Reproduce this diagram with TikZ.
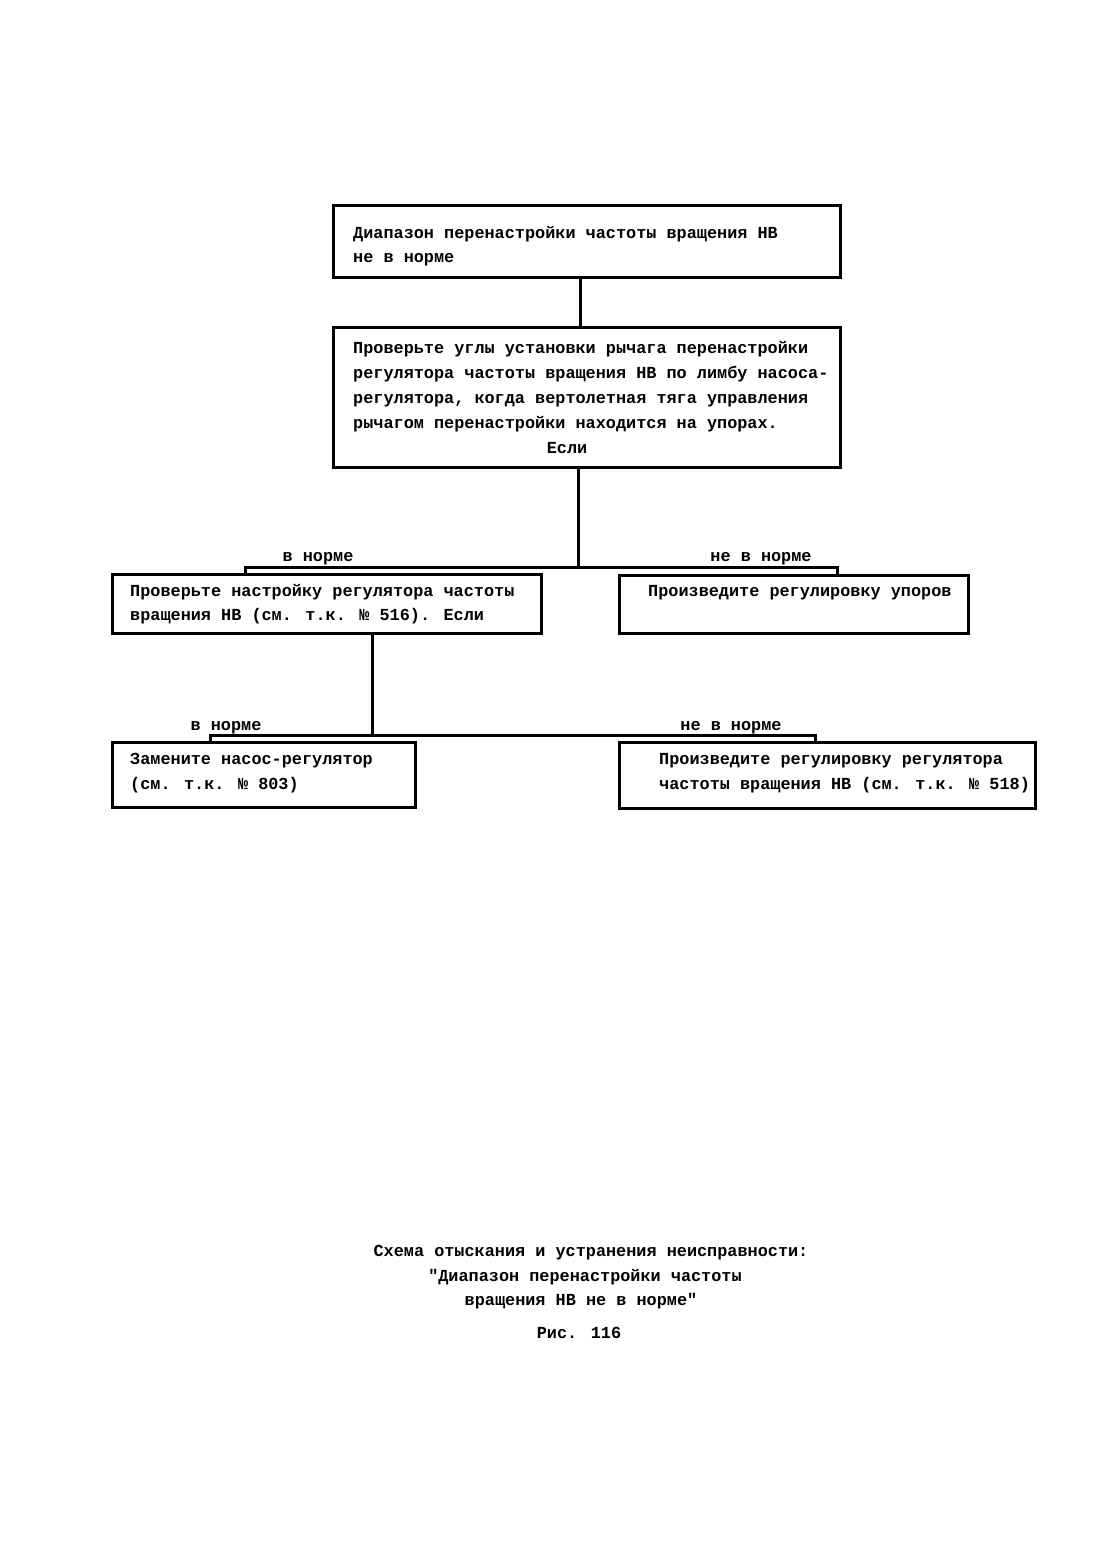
\documentclass[tikz,border=0pt]{standalone}
\usepackage{fontspec}
\setmainfont{Liberation Mono}[Ligatures=TeXOff]
\begin{document}
\begin{tikzpicture}[x=1pt,y=-1pt,
  box/.style={draw,line width=3pt,rectangle,inner sep=0pt},
  txt/.style={anchor=base west,inner sep=0pt,font=\fontsize{16.85}{25}\selectfont\bfseries},
  lbl/.style={anchor=base,inner sep=0pt,font=\fontsize{16.85}{25}\selectfont\bfseries},
  con/.style={line width=3pt}]
\useasboundingbox[fill=white] (0,0) rectangle (1110,1558);
% boxes
\node[box,minimum width=507pt,minimum height=72pt] (b1) at (586.5,241) {};
\node[box,minimum width=507pt,minimum height=140pt] (b2) at (586.5,397) {};
\node[box,minimum width=429pt,minimum height=59pt] (b3) at (326.5,603.5) {};
\node[box,minimum width=349pt,minimum height=58pt] (b4) at (793.5,604) {};
\node[box,minimum width=303pt,minimum height=65pt] (b5) at (263.5,774.5) {};
\node[box,minimum width=416pt,minimum height=66pt] (b6) at (827,775) {};
% texts
\node[txt] (t1a) at (353,238) {Диапазон перенастройки частоты вращения НВ};
\node[txt] (t1b) at (353,262) {не в норме};
\node[txt] (t2a) at (353,353) {Проверьте углы установки рычага перенастройки};
\node[txt] (t2b) at (353,378) {регулятора частоты вращения НВ по лимбу насоса-};
\node[txt] (t2c) at (353,403) {регулятора, когда вертолетная тяга управления};
\node[txt] (t2d) at (353,428) {рычагом перенастройки находится на упорах.};
\node[lbl] (t2e) at (567,453) {Если};
\node[txt] (t3a) at (130,596) {Проверьте настройку регулятора частоты};
\node[txt] (t3b) at (130,620) {вращения НВ (см. т.к. № 516). Если};
\node[txt] (t4a) at (648,596) {Произведите регулировку упоров};
\node[txt] (t5a) at (130,764) {Замените насос-регулятор};
\node[txt] (t5b) at (130,789) {(см. т.к. № 803)};
\node[txt] (t6a) at (659,764) {Произведите регулировку регулятора};
\node[txt] (t6b) at (659,789) {частоты вращения НВ (см. т.к. № 518)};
% branch labels
\node[lbl] (l1) at (318,561) {в норме};
\node[lbl] (l2) at (761,561) {не в норме};
\node[lbl] (l3) at (226,730) {в норме};
\node[lbl] (l4) at (731,730) {не в норме};
% junctions
\coordinate (j1L) at (245,567);
\coordinate (j1R) at (837,567);
\coordinate (j2L) at (210,735);
\coordinate (j2R) at (815,735);
% connectors
\draw[con] (b1.south -| 580,0) -- (b2.north -| 580,0);
\draw[con] (b2.south -| 578,0) -- (578,567);
\draw[con] (b3.north -| j1L) -- (j1L) -- (j1R) -- (b4.north -| j1R);
\draw[con] (b3.south -| 372,0) -- (372,735);
\draw[con] (b5.north -| j2L) -- (j2L) -- (j2R) -- (b6.north -| j2R);
% caption
\node[lbl] (c1) at (591,1256) {Схема отыскания и устранения неисправности:};
\node[lbl] (c2) at (585,1281) {"Диапазон перенастройки частоты};
\node[lbl] (c3) at (581,1305) {вращения НВ не в норме"};
\node[lbl] (c4) at (579,1338) {Рис. 116};
\end{tikzpicture}
\end{document}
